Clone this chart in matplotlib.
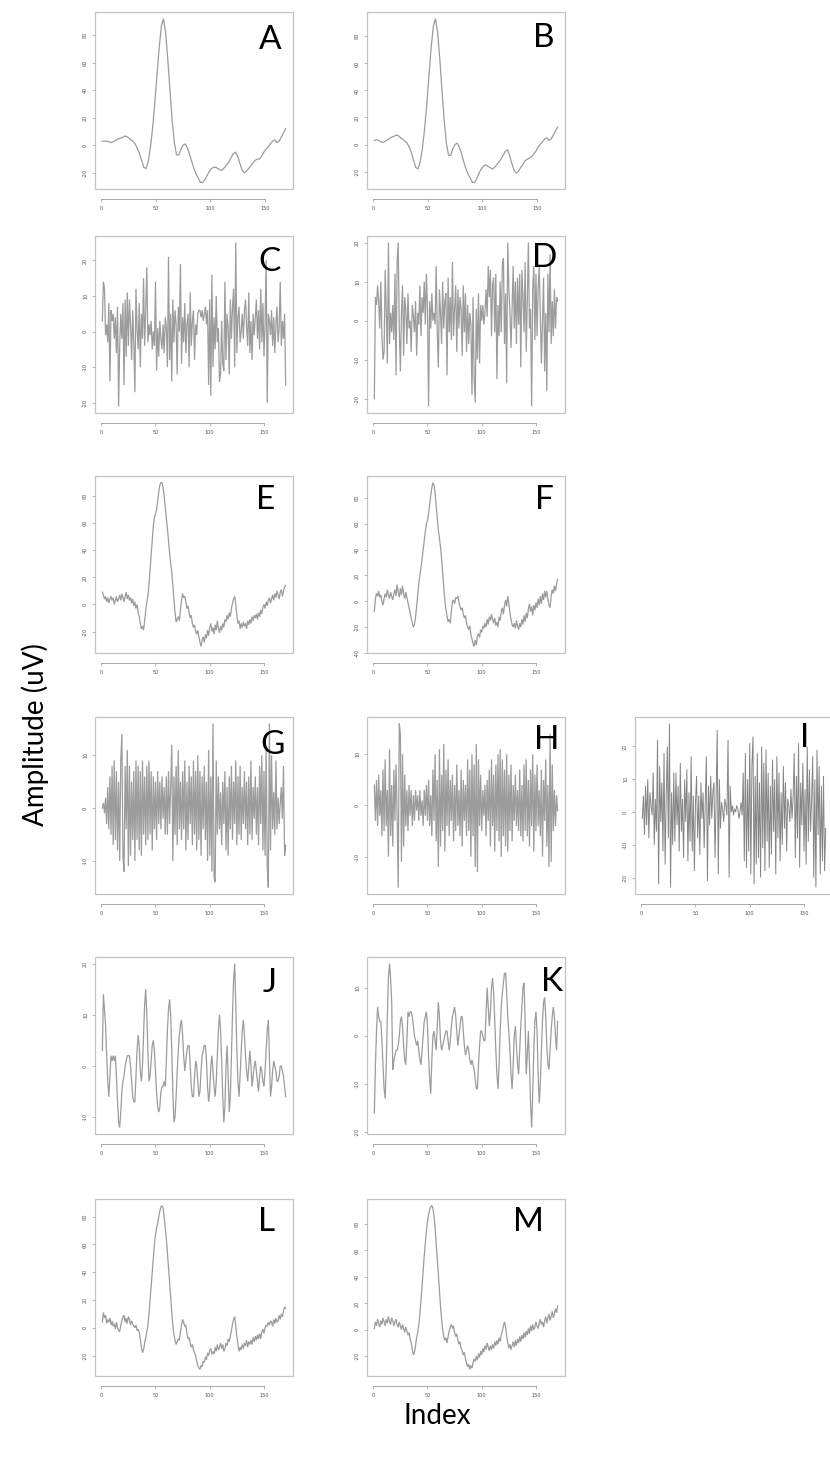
import numpy as np
import matplotlib
matplotlib.use("Agg")
import matplotlib.pyplot as plt
from matplotlib.patches import Rectangle

# ---------------------------------------------------------------- data
# Smooth averaged waveforms (sampled every second index: 1, 3, 5, ...)
wave_a = [3, 3, 3, 2.5, 2, 2.5, 3.5, 4.5, 5, 5.5, 6.5, 6.5, 5.5, 4, 3, 1, -2, -6, -11, -16,
          -17, -12, -2, 12, 30, 50, 70, 86, 92, 82, 62, 40, 18, 2, -7, -7, -3, 0, 1, -2,
          -7, -12, -17, -21, -24, -27, -27, -25, -22, -19, -17, -16, -16, -17, -18, -18, -16, -14, -12, -9,
          -6, -5, -8, -13, -18, -20, -19, -17, -15, -13, -11, -10, -10, -8, -5, -3, -1, 1, 3, 4,
          2, 3, 6, 9, 12]
wave_b = [3, 3.5, 3, 2, 1.5, 2.5, 3.5, 4.5, 5.5, 6, 7, 6.5, 5, 4, 2.5, 1, -2, -6, -12, -17,
          -18, -13, -3, 11, 29, 50, 71, 87, 93, 83, 63, 40, 18, 1, -8, -8, -3, 0, 1, -2,
          -7, -13, -18, -22, -25, -28, -28, -25, -21, -18, -16, -15, -16, -17, -18, -17, -15, -13, -11, -8,
          -5, -4, -8, -14, -19, -21, -20, -17, -15, -12, -11, -10, -9, -7, -5, -2, 0, 2, 4, 5,
          3, 4, 7, 10, 13]

# Single-trial style traces, one value per index
wave_c = [3, 14, 12, -1, 2, -3, 8, -14, 6, 3, 5, -2, 4, -6, 7, -21, -4, 5, -2, 8,
          -15, 9, -7, 11, -4, 9, 2, -8, 6, -3, -17, 12, 1, -5, 8, -10, 5, -2, 15, -4,
          6, 18, -3, 2, -1, 3, -5, 0, -4, 14, -11, 1, -7, 3, -2, -5, 2, -6, 4, 1,
          -10, 21, -8, 5, -14, 9, -3, 6, 2, -12, 7, 0, 19, -9, 4, -3, 8, -6, 2, 5,
          -10, 11, -4, 3, 6, -8, 2, -1, 5, 6, 6, 4, 6, 3, 5, 7, 2, 6, -15, 9,
          -18, 16, -10, 4, -5, 10, -3, 1, -14, -12, 3, -9, -11, 14, -8, 5, 1, -12, 9, -2,
          7, 12, -10, 25, -6, 4, 7, -3, 0, 5, -2, 6, 9, 1, -4, 11, -6, 3, -8, 5,
          -1, 4, 9, -2, 6, -5, 12, -3, 8, -7, 2, 20, -20, 5, 3, -1, 6, -4, 4, -6,
          2, 7, -3, 1, 14, -4, 3, -2, 5, -15]
wave_d = [-20, 6, 4, 9, 5, -2, 10, -4, -10, -8, 13, 3, -11, 20, -6, 2, -3, 4, -5, 12,
          -14, 15, 20, -2, -13, 2, 9, -9, 6, 3, -6, 7, -2, 0, -8, 4, 1, -3, 5, -9,
          2, -1, 9, -4, 6, 2, 10, -1, 12, 3, -22, 5, -2, 7, 0, 2, -1, 14, -3, -12,
          8, 2, -6, 10, -2, 5, 7, -14, 11, -3, 6, -5, 15, -4, 3, 9, -8, 8, -2, 6,
          3, -9, 9, -3, 7, -8, 4, -6, 2, -1, -19, 6, -15, -21, 3, -10, 7, -11, 4, 0,
          4, -1, 2, 8, 1, 14, 6, 13, -4, 9, 11, -3, 12, -15, 4, -4, 10, -3, 14, 16,
          -6, 7, -16, 20, 8, 2, -7, 4, 14, -2, 10, -6, 11, -1, 12, -12, 13, 6, -3, 15,
          -8, 5, 20, -2, 3, -22, 8, 14, -5, 12, -4, 8, 14, 2, -11, 0, 11, -13, 2, -18,
          12, -3, 17, -6, 5, -4, 8, -2, 6, 5]
wave_e = [9, 7, 4, 6, 2, 5, 1, 4, 6, 3, 5, 0, 3, 6, 2, 4, 7, 3, 8, 5,
          2, 6, 9, 4, 7, 3, 5, 1, 4, -1, 2, -3, 0, -6, -9, -14, -18, -16, -19, -12,
          -5, 2, 6, 15, 26, 37, 48, 58, 64, 67, 70, 76, 83, 88, 90, 90, 86, 80, 72, 64,
          56, 47, 38, 30, 24, 14, 4, -6, -13, -11, -9, -12, -4, 3, 8, 5, 6, 2, -3, -1,
          -6, -10, -8, -14, -17, -15, -20, -22, -19, -24, -28, -31, -26, -24, -28, -22, -25, -19, -23, -17,
          -14, -20, -17, -22, -15, -19, -12, -18, -21, -16, -19, -14, -17, -11, -13, -8, -11, -6, -9, -3,
          1, 4, 6, 0, -8, -14, -12, -18, -14, -17, -13, -16, -14, -18, -12, -15, -11, -14, -9, -12,
          -8, -10, -7, -11, -6, -9, -4, -7, -2, 0, -3, 2, -1, 3, 5, 1, 4, 7, 3, 8,
          5, 10, 7, 4, 9, 11, 6, 10, 13, 14]
wave_f = [-8, 2, 6, 4, 8, 3, 5, 0, -3, 2, 6, 3, 9, 5, 2, 7, 4, 1, 6, 9,
          4, 13, 7, 3, 10, 5, 12, 6, 2, 7, 3, -1, -5, -9, -13, -17, -20, -18, -12, -4,
          5, 14, 20, 26, 33, 40, 47, 54, 60, 63, 68, 75, 82, 88, 92, 90, 84, 74, 63, 55,
          49, 42, 33, 22, 10, 0, -6, -12, -16, -14, -17, -8, 0, 1, -2, 3, 2, 4, -1, -4,
          -7, -5, -10, -13, -11, -17, -20, -22, -19, -26, -29, -33, -35, -30, -34, -27, -25, -28, -22, -24,
          -19, -21, -17, -20, -14, -18, -12, -15, -10, -14, -17, -13, -19, -16, -20, -12, -15, -8, -5, -10,
          -3, 1, -4, 4, -2, -9, -14, -18, -20, -17, -21, -15, -19, -22, -17, -20, -14, -18, -11, -16,
          -9, -13, -6, -2, -8, -4, -11, -3, -7, -1, -5, 2, -3, 4, -2, 6, 1, 8, 3, 8,
          2, -3, -5, 4, 9, 6, 12, 8, 14, 17]
wave_g = [0, 1, -1, 2, -3, 4, -4, 6, -5, 8, -7, 9, -6, 7, -8, 5, -10, 9, 14, -9,
          -12, 8, -4, 11, -11, 8, -9, 5, -6, 7, -10, 9, -6, 8, -8, 7, -9, 9, -5, 6,
          -7, 8, -6, 9, -5, 7, -8, 6, -4, 5, -6, 7, -3, 5, -4, 6, -2, 4, -5, 6,
          -5, 7, -3, 4, 12, -10, 6, -5, 8, -7, 11, -4, 5, -6, 7, -4, 9, -8, 5, -6,
          8, -3, 6, -7, 9, -5, 7, -8, 10, -6, 7, -9, 6, -4, 8, -6, 5, -10, 11, -9,
          6, -12, 16, -13, -14, 9, -5, 6, -4, 3, -7, 5, -3, 7, -8, 4, -9, 6, -4, 8,
          -6, 5, -3, 9, -7, 6, -5, 8, -6, 4, -3, 7, -4, 5, -7, 6, -5, 9, -6, 4,
          -2, 6, -5, 4, -7, 8, -3, 10, -8, 7, -9, 11, -11, -15, 16, -8, 10, -4, 3, -5,
          9, -4, 2, -3, 1, 4, -2, 8, -9, -7]
wave_h = [4, -3, 5, -4, 6, -2, 3, -6, 7, -5, 9, -4, 3, -10, 11, -6, 4, -8, 7, -3,
          8, -2, -16, 16, 14, -11, 10, -8, 6, -4, 3, -5, 4, -2, 3, -4, 2, -3, 3, -1,
          2, -3, 3, -2, 1, -4, 3, -2, 4, -3, 5, -4, 2, -6, 7, -3, 10, -7, 5, -12,
          11, -8, 6, -5, 12, -9, 7, -4, 9, -6, 5, -3, 6, -7, 4, -5, 8, -4, 3, -6,
          7, -8, 5, -3, 4, -6, 9, -5, 7, -10, 10, -6, 8, -12, 12, -13, 9, -4, 6, -5,
          3, -2, 4, -6, 5, -3, 7, -8, 9, -4, 6, -9, 8, -5, 10, -7, 11, -10, 9, -6,
          7, -8, 10, -9, 6, -5, 8, -7, 4, -3, 6, -4, 3, -5, 7, -6, 4, -7, 8, -5,
          9, -6, 5, -8, 7, -4, 10, -9, 6, -5, 8, -4, 3, -6, 7, -10, 5, -3, 9, -8,
          4, -12, 14, -11, 8, -5, 3, -4, 2, -1]
wave_i = [-2, 5, -7, 8, -4, 10, -8, 6, 2, -1, 12, -10, 4, -6, 22, -22, 14, -3, 9, -12,
          18, -16, 4, 20, -8, 27, -23, 6, -10, 12, -9, 12, -4, 8, -12, 15, -6, 4, -14, 10,
          -3, 13, -15, 6, -9, 17, -12, 5, -18, 3, 11, -8, 5, -13, 9, -2, 6, -11, 3, 17,
          -21, 8, -4, 11, -2, 6, 9, -14, 4, 25, -19, 10, -5, 3, 1, -3, 4, 2, -1, 22,
          -20, 8, 0, 2, -1, 1, 0, 2, 1, -2, 0, 3, -1, 12, -15, 18, -17, 10, -12, 21,
          -19, 14, 23, -22, 11, -16, 18, -14, 9, -20, 20, -11, 15, -18, 19, -9, 12, -17, 8, -13,
          16, -6, 10, -19, 17, -8, 12, -15, 6, -10, 14, -5, 9, -12, 4, 2, -3, 7, -2, 5,
          18, -14, 11, -8, 21, -17, 9, -4, 15, -12, 7, -16, 20, -9, 13, -6, 3, 17, -20, 10,
          -23, 19, -7, 14, -19, 8, -15, 11, -18, -5]
wave_j = [3, 14, 11, 8, 2, -3, -6, -2, 2, 1, 2, 1, 2, -2, -7, -11, -12, -9, -5, -3,
          -2, 0, 1, 2, 2, 2, 0, -3, -6, -7, -7, -2, 3, 6, 4, -1, -3, 0, 6, 12,
          15, 10, 3, -3, -2, 1, 4, 5, 3, -1, -5, -8, -9, -8, -5, -4, -4, -3, -4, 1,
          7, 11, 13, 10, 3, -5, -11, -10, -6, -1, 3, 6, 8, 9, 6, 2, -1, 1, 3, 4,
          4, 0, -4, -6, -6, -2, 1, 0, -3, -6, -5, -1, 2, 3, 4, 4, 1, -4, -7, -5,
          0, 2, -1, -4, -6, -3, 2, 7, 10, 7, 1, -6, -11, -8, 0, 4, -2, -9, -6, 2,
          10, 17, 20, 12, 3, -3, -6, -2, 3, 7, 9, 6, 2, -1, -3, 0, 3, 0, -4, -2,
          0, 1, -1, -3, -5, -2, 0, -1, -3, -4, -1, 3, 7, 9, 2, -6, -4, -1, 1, 0,
          -1, -3, -3, -2, 0, 0, -1, -2, -4, -6]
wave_k = [-16, -6, 1, 6, 4, 3, 3, -1, -6, -11, -13, -6, 4, 12, 15, 12, 7, -7, -5, -4,
          -3, -3, -2, 0, 3, 4, 2, -2, -5, -6, -1, 5, 4, 5, 5, 4, 2, 0, -1, -2,
          -1, -3, -5, -6, -3, 0, 3, 4, 5, 2, -4, -9, -12, -5, 0, 1, -1, -3, 2, 7,
          4, -1, -3, -2, -1, 0, 1, 1, -1, -3, -1, 2, 4, 5, 6, 4, 1, -2, 0, 2,
          4, 4, 1, -2, -4, -3, -2, -3, -5, -6, -5, -6, -7, -9, -11, -11, -6, -2, 1, 1,
          0, -1, -1, 5, 10, 6, 2, 5, 10, 12, 9, 3, -3, -8, -11, -6, 1, 6, 9, 11,
          13, 13, 9, 4, 1, -3, -8, -11, -6, 0, 2, -2, -6, -8, -3, 2, 6, 10, 11, 3,
          -8, -4, 1, -6, -14, -19, -12, -3, 3, 5, 1, -8, -14, -10, -3, 3, 7, 8, 4, -2,
          -6, -7, -3, 1, 4, 6, 4, 0, -3, 3]
wave_l = [4, 11, 7, 9, 3, 6, 4, 7, 2, 5, 1, 3, -1, 4, 0, -2, -3, 2, 5, 8,
          9, 4, 7, 3, 8, 6, 2, 5, 3, 1, 0, 2, -2, -1, -3, -8, -14, -18, -16, -11,
          -7, -3, 2, 10, 20, 31, 40, 50, 60, 67, 72, 75, 80, 84, 87, 88, 86, 80, 72, 64,
          54, 44, 33, 22, 11, 2, -5, -9, -12, -10, -8, -9, -3, 2, 6, 4, 1, 2, -4, -8,
          -7, -11, -14, -12, -16, -18, -20, -24, -27, -29, -30, -27, -28, -24, -25, -21, -23, -18, -20, -16,
          -15, -19, -17, -19, -14, -17, -12, -16, -14, -11, -15, -12, -17, -15, -11, -13, -8, -10, -6, -2,
          3, 6, 8, 1, -6, -12, -17, -14, -16, -12, -15, -11, -13, -9, -14, -10, -12, -9, -12, -7,
          -10, -6, -9, -5, -8, -4, -8, -3, -1, -4, 0, 2, 1, 4, 2, 5, 4, 1, 6, 3,
          7, 4, 5, 9, 6, 10, 8, 12, 15, 14]
wave_m = [1, 6, 3, 8, 5, 2, 7, 4, 9, 6, 3, 8, 5, 10, 6, 4, 9, 7, 3, 6,
          8, 4, 2, 6, 3, 0, 4, 1, -2, 2, -1, -4, -2, -7, -10, -15, -19, -17, -12, -6,
          -2, 4, 12, 22, 33, 45, 56, 66, 75, 82, 87, 91, 93, 94, 92, 86, 77, 66, 54, 42,
          30, 18, 8, 0, -5, -8, -6, -10, -5, -1, 2, 4, 1, 3, -2, -5, -3, -8, -11, -9,
          -14, -16, -19, -17, -22, -25, -28, -26, -30, -27, -29, -25, -22, -24, -20, -23, -18, -21, -16, -19,
          -14, -17, -12, -15, -10, -13, -16, -12, -15, -11, -14, -9, -12, -8, -11, -6, -9, -4, -1, 3,
          6, 2, -5, -10, -14, -11, -15, -12, -9, -13, -8, -12, -7, -10, -5, -9, -4, -7, -2, -6,
          -1, -4, 1, -3, 3, -1, 4, 0, 2, 6, 3, 1, 5, 8, 4, 6, 2, 7, 10, 5,
          9, 12, 7, 10, 14, 9, 12, 16, 13, 18]

panel_letters = ["A", "B", "C", "D", "E", "F", "G", "H", "I", "J", "K", "L", "M"]
panel_series = [wave_a, wave_b, wave_c, wave_d, wave_e, wave_f, wave_g,
                wave_h, wave_i, wave_j, wave_k, wave_l, wave_m]
panel_steps = [2, 2, 1, 1, 1, 1, 1, 1, 1, 1, 1, 1, 1]
panel_yticks = [
    [-20, 0, 20, 40, 60, 80],
    [-20, 0, 20, 40, 60, 80],
    [-20, -10, 0, 10, 20],
    [-20, -10, 0, 10, 20],
    [-20, 0, 20, 40, 60, 80],
    [-40, -20, 0, 20, 40, 60, 80],
    [-10, 0, 10],
    [-10, 0, 10],
    [-20, -10, 0, 10, 20],
    [-10, 0, 10, 20],
    [-20, -10, 0, 10],
    [-20, 0, 20, 40, 60, 80],
    [-20, 0, 20, 40, 60, 80],
]
x_ticks = [0, 50, 100, 150]

# ---------------------------------------------------------------- layout (pixels)
W, H = 830, 1464
col_left = [95, 367, 635]
row_top = [12, 236, 476, 717, 957, 1199]
box_w, box_h = 198, 177
# (column, row) of each panel
grid_pos = [(0, 0), (1, 0), (0, 1), (1, 1), (0, 2), (1, 2), (0, 3), (1, 3), (2, 3),
            (0, 4), (1, 4), (0, 5), (1, 5)]
# letter centres in pixels
letter_xy = [(270, 40), (544, 38), (269, 262), (545, 258), (266, 500), (544, 500),
             (273, 745), (547, 740), (805, 738), (270, 983), (552, 982), (267, 1222),
             (528, 1222)]

plt.rcParams["axes.xmargin"] = 0.04
plt.rcParams["axes.ymargin"] = 0.04

fig = plt.figure(figsize=(W / 100, H / 100), dpi=100)
fig.patch.set_facecolor("white")

line_col = "#9c9c9c"
frame_col = "#c4c4c4"
tick_col = "#9a9a9a"
label_col = "#555555"

for k, series in enumerate(panel_series):
    c, r = grid_pos[k]
    left = col_left[c] / W
    bottom = 1 - (row_top[r] + box_h) / H
    ax = fig.add_axes([left, bottom, box_w / W, box_h / H])
    y = np.asarray(series, dtype=float)
    step = panel_steps[k]
    x = np.arange(1, 1 + step * len(y), step)
    lw = 0.9 if k != 8 else 0.7
    col = line_col if k != 8 else "#858585"
    ax.plot(x, y, color=col, lw=lw, solid_joinstyle="miter")

    for s in ax.spines.values():
        s.set_visible(False)
    ax.spines["bottom"].set_visible(True)
    ax.spines["bottom"].set_position(("outward", 7))
    ax.spines["bottom"].set_bounds(x_ticks[0], x_ticks[-1])
    ax.spines["bottom"].set_color(tick_col)
    ax.spines["bottom"].set_linewidth(0.6)
    ax.add_patch(Rectangle((0, 0), 1, 1, transform=ax.transAxes, fill=False,
                           ec=frame_col, lw=0.9, clip_on=False))

    ax.set_xticks(x_ticks)
    ax.set_xticklabels([str(t) for t in x_ticks])
    ax.set_yticks(panel_yticks[k])
    ax.set_yticklabels([str(t) for t in panel_yticks[k]], rotation=90, va="center")
    ax.tick_params(axis="both", length=2.5, width=0.5, color=tick_col,
                   labelsize=3.6, labelcolor=label_col, pad=2.5)
    ax.set_facecolor("white")

    lx, ly = letter_xy[k]
    fig.text(lx / W, 1 - ly / H, panel_letters[k], fontsize=24,
             family="Lato", ha="center", va="center", color="black")

fig.text(35 / W, 1 - 735 / H, "Amplitude (uV)", rotation=90, fontsize=20,
         family="Lato", ha="center", va="center", color="black")
fig.text(437 / W, 1 - 1416 / H, "Index", fontsize=20,
         family="Lato", ha="center", va="center", color="black")

fig.savefig("out.png", dpi=100, facecolor="white")
